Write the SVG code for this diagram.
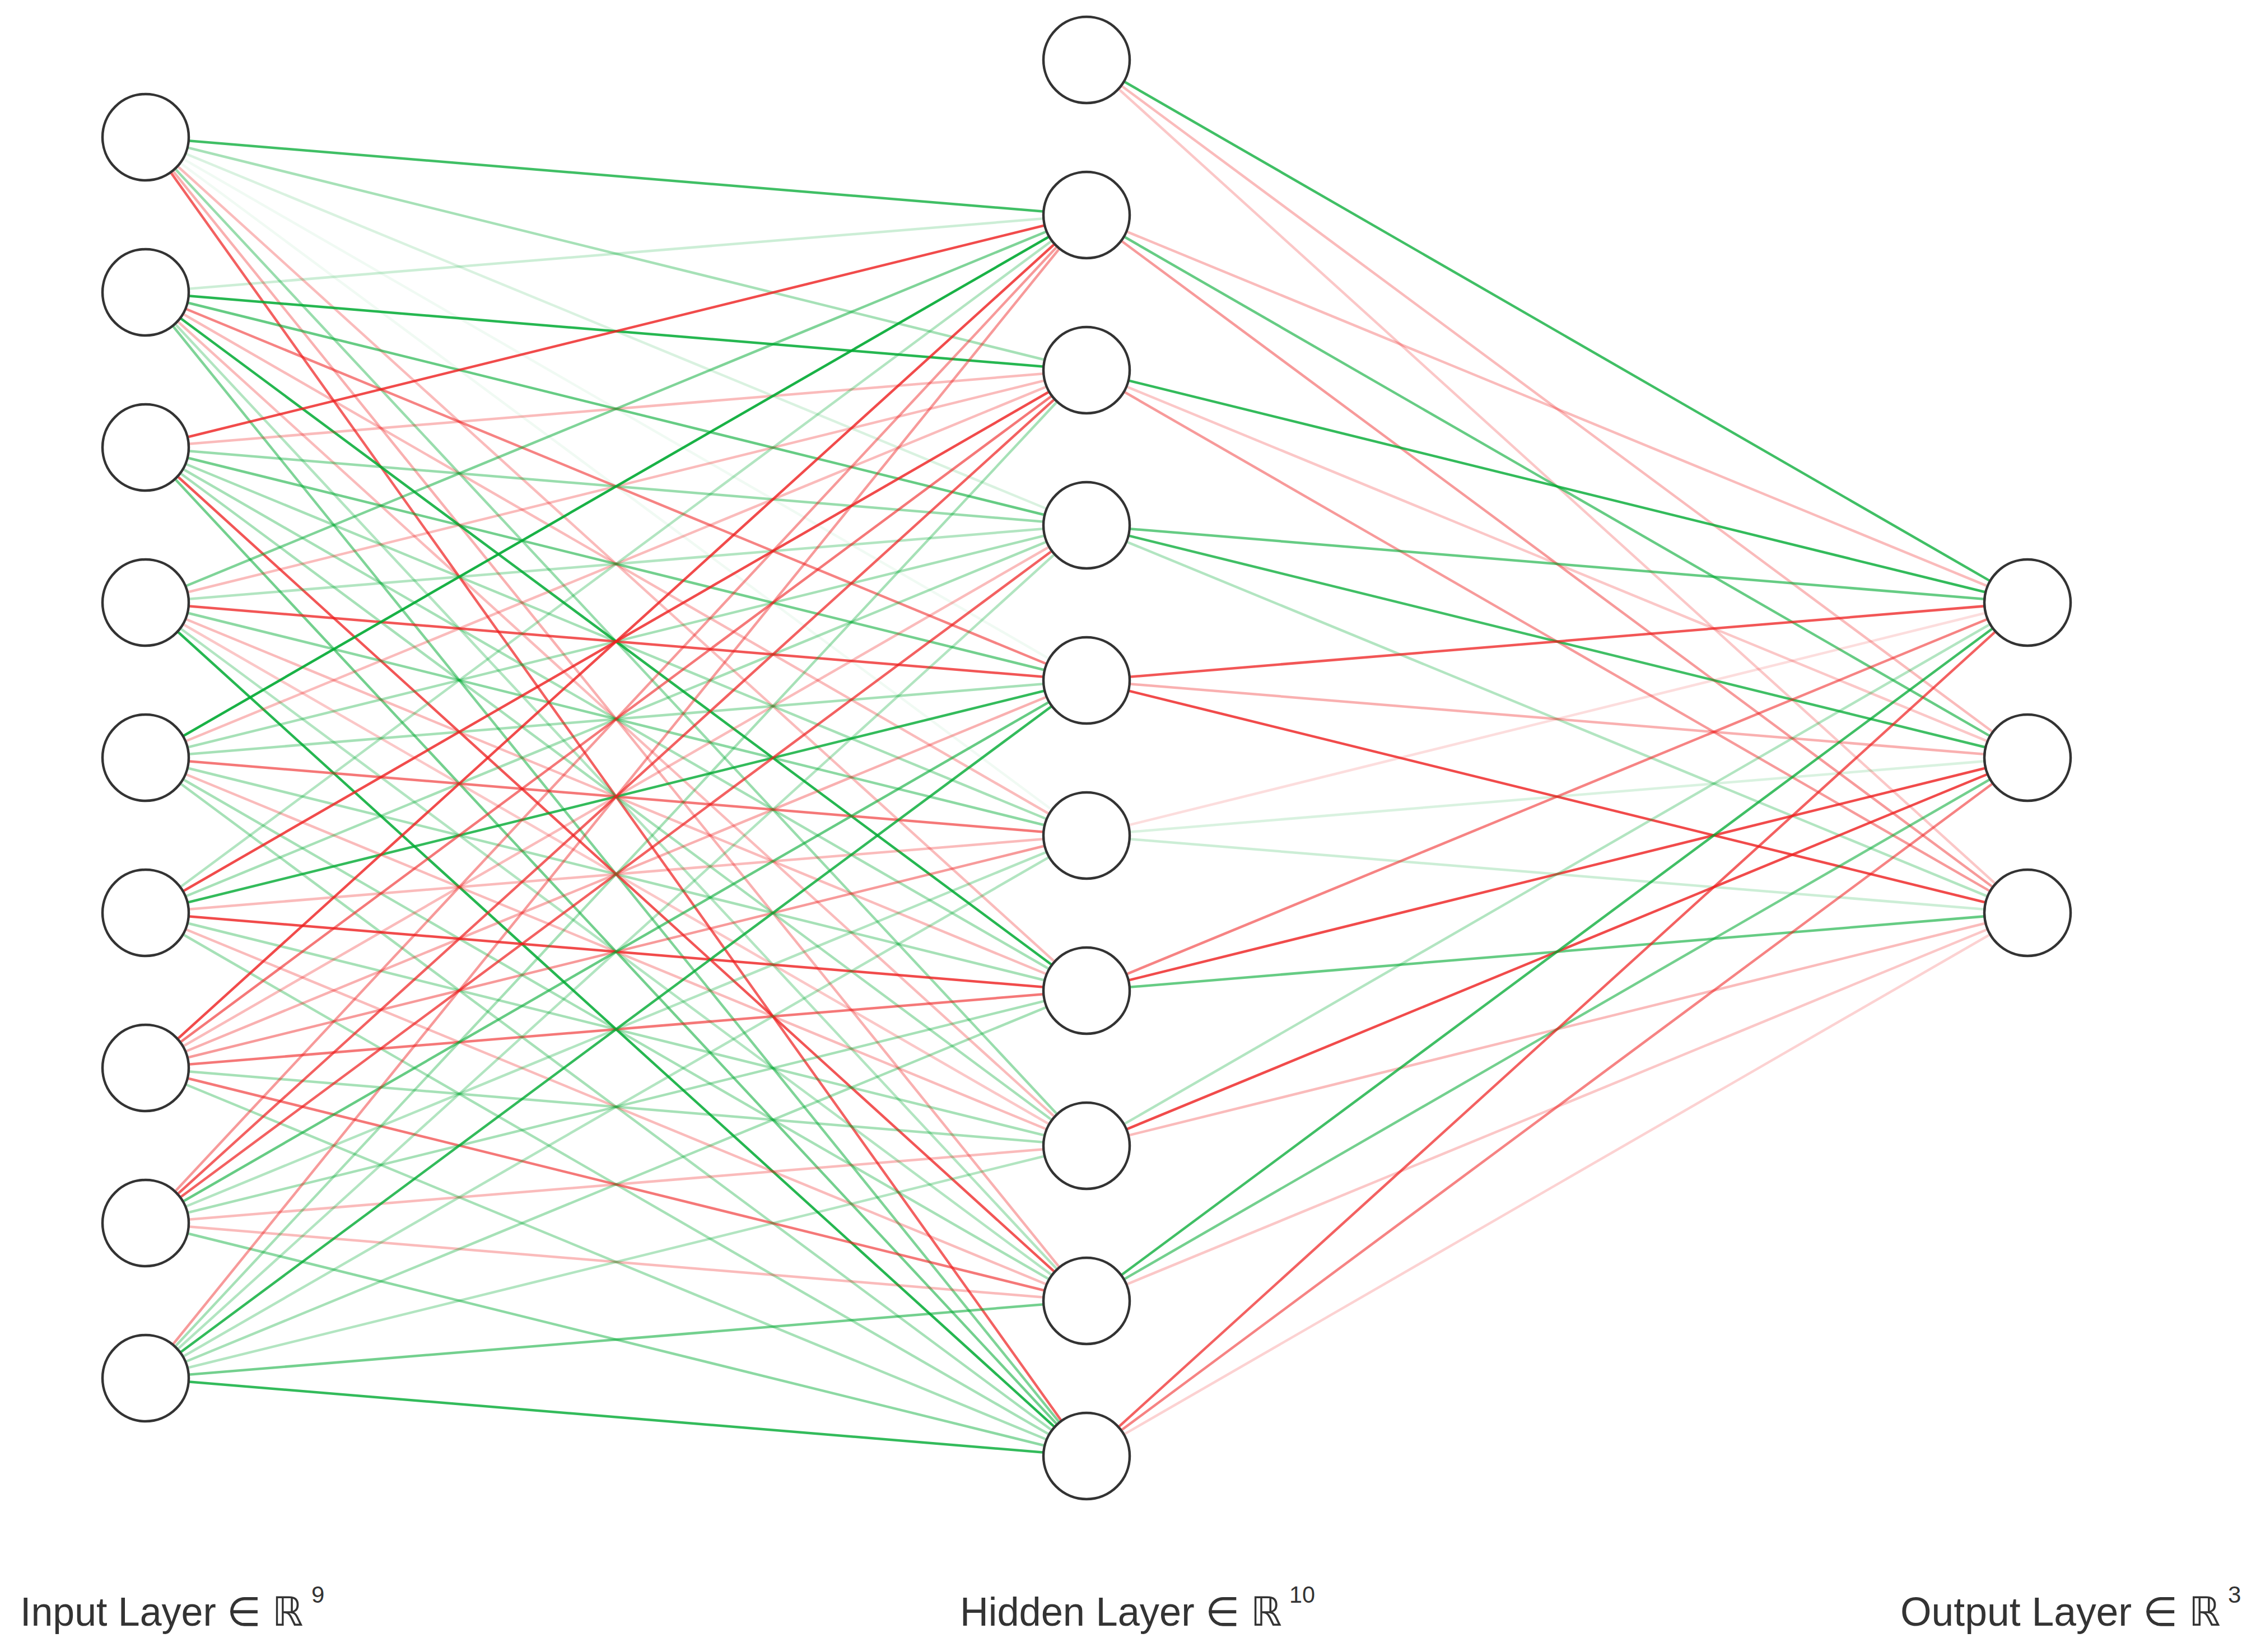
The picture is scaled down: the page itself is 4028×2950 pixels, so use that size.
<svg xmlns="http://www.w3.org/2000/svg" width="4028" height="2950" viewBox="0 0 4028 2950">
<style>
.bg{fill:#fff}
.node circle{fill:#fff;stroke:#333;stroke-width:4.5}
.g{stroke:rgb(0,170,50);stroke-width:4.5}
.r{stroke:rgb(238,30,30);stroke-width:4.5}
.lbl{font-family:"Liberation Sans",Arial,sans-serif;font-size:72px;fill:#333}
.sup{font-family:"Liberation Sans",Arial,sans-serif;font-size:42px;fill:#333}
</style>
<rect class="bg" x="0" y="0" width="4028" height="2950"/>
<g id="connectors">
<!-- I1 -->
<line class="g" x1="260" y1="245" x2="1940" y2="384" stroke-opacity="0.75"/>
<line class="g" x1="260" y1="245" x2="1940" y2="661" stroke-opacity="0.35"/>
<line class="g" x1="260" y1="245" x2="1940" y2="938" stroke-opacity="0.15"/>
<line class="g" x1="260" y1="245" x2="1940" y2="1215" stroke-opacity="0.06"/>
<line class="g" x1="260" y1="245" x2="1940" y2="1492" stroke-opacity="0.06"/>
<line class="r" x1="260" y1="245" x2="1940" y2="1769" stroke-opacity="0.3"/>
<line class="g" x1="260" y1="245" x2="1940" y2="2046" stroke-opacity="0.4"/>
<line class="r" x1="260" y1="245" x2="1940" y2="2323" stroke-opacity="0.35"/>
<line class="r" x1="260" y1="245" x2="1940" y2="2600" stroke-opacity="0.7"/>
<!-- I2 -->
<line class="g" x1="260" y1="522" x2="1940" y2="384" stroke-opacity="0.2"/>
<line class="g" x1="260" y1="522" x2="1940" y2="661" stroke-opacity="0.85"/>
<line class="g" x1="260" y1="522" x2="1940" y2="938" stroke-opacity="0.6"/>
<line class="r" x1="260" y1="522" x2="1940" y2="1215" stroke-opacity="0.55"/>
<line class="r" x1="260" y1="522" x2="1940" y2="1492" stroke-opacity="0.3"/>
<line class="g" x1="260" y1="522" x2="1940" y2="1769" stroke-opacity="0.85"/>
<line class="r" x1="260" y1="522" x2="1940" y2="2046" stroke-opacity="0.3"/>
<line class="g" x1="260" y1="522" x2="1940" y2="2323" stroke-opacity="0.3"/>
<line class="g" x1="260" y1="522" x2="1940" y2="2600" stroke-opacity="0.5"/>
<!-- I3 -->
<line class="r" x1="260" y1="799" x2="1940" y2="384" stroke-opacity="0.8"/>
<line class="r" x1="260" y1="799" x2="1940" y2="661" stroke-opacity="0.3"/>
<line class="g" x1="260" y1="799" x2="1940" y2="938" stroke-opacity="0.4"/>
<line class="g" x1="260" y1="799" x2="1940" y2="1215" stroke-opacity="0.55"/>
<line class="g" x1="260" y1="799" x2="1940" y2="1492" stroke-opacity="0.35"/>
<line class="g" x1="260" y1="799" x2="1940" y2="1769" stroke-opacity="0.35"/>
<line class="g" x1="260" y1="799" x2="1940" y2="2046" stroke-opacity="0.35"/>
<line class="r" x1="260" y1="799" x2="1940" y2="2323" stroke-opacity="0.75"/>
<line class="g" x1="260" y1="799" x2="1940" y2="2600" stroke-opacity="0.55"/>
<!-- I4 -->
<line class="g" x1="260" y1="1076" x2="1940" y2="384" stroke-opacity="0.5"/>
<line class="r" x1="260" y1="1076" x2="1940" y2="661" stroke-opacity="0.3"/>
<line class="g" x1="260" y1="1076" x2="1940" y2="938" stroke-opacity="0.3"/>
<line class="r" x1="260" y1="1076" x2="1940" y2="1215" stroke-opacity="0.75"/>
<line class="g" x1="260" y1="1076" x2="1940" y2="1492" stroke-opacity="0.45"/>
<line class="r" x1="260" y1="1076" x2="1940" y2="1769" stroke-opacity="0.3"/>
<line class="r" x1="260" y1="1076" x2="1940" y2="2046" stroke-opacity="0.25"/>
<line class="g" x1="260" y1="1076" x2="1940" y2="2323" stroke-opacity="0.3"/>
<line class="g" x1="260" y1="1076" x2="1940" y2="2600" stroke-opacity="0.85"/>
<!-- I5 -->
<line class="g" x1="260" y1="1353" x2="1940" y2="384" stroke-opacity="0.9"/>
<line class="r" x1="260" y1="1353" x2="1940" y2="661" stroke-opacity="0.3"/>
<line class="g" x1="260" y1="1353" x2="1940" y2="938" stroke-opacity="0.35"/>
<line class="g" x1="260" y1="1353" x2="1940" y2="1215" stroke-opacity="0.35"/>
<line class="r" x1="260" y1="1353" x2="1940" y2="1492" stroke-opacity="0.6"/>
<line class="g" x1="260" y1="1353" x2="1940" y2="1769" stroke-opacity="0.35"/>
<line class="r" x1="260" y1="1353" x2="1940" y2="2046" stroke-opacity="0.3"/>
<line class="g" x1="260" y1="1353" x2="1940" y2="2323" stroke-opacity="0.35"/>
<line class="g" x1="260" y1="1353" x2="1940" y2="2600" stroke-opacity="0.35"/>
<!-- I6 -->
<line class="g" x1="260" y1="1630" x2="1940" y2="384" stroke-opacity="0.3"/>
<line class="r" x1="260" y1="1630" x2="1940" y2="661" stroke-opacity="0.8"/>
<line class="g" x1="260" y1="1630" x2="1940" y2="938" stroke-opacity="0.35"/>
<line class="g" x1="260" y1="1630" x2="1940" y2="1215" stroke-opacity="0.8"/>
<line class="r" x1="260" y1="1630" x2="1940" y2="1492" stroke-opacity="0.3"/>
<line class="r" x1="260" y1="1630" x2="1940" y2="1769" stroke-opacity="0.8"/>
<line class="g" x1="260" y1="1630" x2="1940" y2="2046" stroke-opacity="0.35"/>
<line class="r" x1="260" y1="1630" x2="1940" y2="2323" stroke-opacity="0.3"/>
<line class="g" x1="260" y1="1630" x2="1940" y2="2600" stroke-opacity="0.35"/>
<!-- I7 -->
<line class="r" x1="260" y1="1907" x2="1940" y2="384" stroke-opacity="0.8"/>
<line class="r" x1="260" y1="1907" x2="1940" y2="661" stroke-opacity="0.6"/>
<line class="r" x1="260" y1="1907" x2="1940" y2="938" stroke-opacity="0.3"/>
<line class="r" x1="260" y1="1907" x2="1940" y2="1215" stroke-opacity="0.35"/>
<line class="r" x1="260" y1="1907" x2="1940" y2="1492" stroke-opacity="0.45"/>
<line class="r" x1="260" y1="1907" x2="1940" y2="1769" stroke-opacity="0.6"/>
<line class="g" x1="260" y1="1907" x2="1940" y2="2046" stroke-opacity="0.35"/>
<line class="r" x1="260" y1="1907" x2="1940" y2="2323" stroke-opacity="0.6"/>
<line class="g" x1="260" y1="1907" x2="1940" y2="2600" stroke-opacity="0.35"/>
<!-- I8 -->
<line class="r" x1="260" y1="2184" x2="1940" y2="384" stroke-opacity="0.45"/>
<line class="r" x1="260" y1="2184" x2="1940" y2="661" stroke-opacity="0.7"/>
<line class="r" x1="260" y1="2184" x2="1940" y2="938" stroke-opacity="0.7"/>
<line class="g" x1="260" y1="2184" x2="1940" y2="1215" stroke-opacity="0.6"/>
<line class="g" x1="260" y1="2184" x2="1940" y2="1492" stroke-opacity="0.3"/>
<line class="g" x1="260" y1="2184" x2="1940" y2="1769" stroke-opacity="0.35"/>
<line class="r" x1="260" y1="2184" x2="1940" y2="2046" stroke-opacity="0.3"/>
<line class="r" x1="260" y1="2184" x2="1940" y2="2323" stroke-opacity="0.3"/>
<line class="g" x1="260" y1="2184" x2="1940" y2="2600" stroke-opacity="0.45"/>
<!-- I9 -->
<line class="r" x1="260" y1="2461" x2="1940" y2="384" stroke-opacity="0.45"/>
<line class="g" x1="260" y1="2461" x2="1940" y2="661" stroke-opacity="0.35"/>
<line class="g" x1="260" y1="2461" x2="1940" y2="938" stroke-opacity="0.3"/>
<line class="g" x1="260" y1="2461" x2="1940" y2="1215" stroke-opacity="0.8"/>
<line class="g" x1="260" y1="2461" x2="1940" y2="1492" stroke-opacity="0.3"/>
<line class="g" x1="260" y1="2461" x2="1940" y2="1769" stroke-opacity="0.35"/>
<line class="g" x1="260" y1="2461" x2="1940" y2="2046" stroke-opacity="0.3"/>
<line class="g" x1="260" y1="2461" x2="1940" y2="2323" stroke-opacity="0.55"/>
<line class="g" x1="260" y1="2461" x2="1940" y2="2600" stroke-opacity="0.8"/>
<!-- Hidden to output -->
<line class="g" x1="1940" y1="107" x2="3620" y2="1076" stroke-opacity="0.75"/>
<line class="r" x1="1940" y1="107" x2="3620" y2="1353" stroke-opacity="0.3"/>
<line class="r" x1="1940" y1="107" x2="3620" y2="1630" stroke-opacity="0.25"/>
<line class="r" x1="1940" y1="384" x2="3620" y2="1076" stroke-opacity="0.3"/>
<line class="g" x1="1940" y1="384" x2="3620" y2="1353" stroke-opacity="0.6"/>
<line class="r" x1="1940" y1="384" x2="3620" y2="1630" stroke-opacity="0.45"/>
<line class="g" x1="1940" y1="661" x2="3620" y2="1076" stroke-opacity="0.8"/>
<line class="r" x1="1940" y1="661" x2="3620" y2="1353" stroke-opacity="0.25"/>
<line class="r" x1="1940" y1="661" x2="3620" y2="1630" stroke-opacity="0.45"/>
<line class="g" x1="1940" y1="938" x2="3620" y2="1076" stroke-opacity="0.6"/>
<line class="g" x1="1940" y1="938" x2="3620" y2="1353" stroke-opacity="0.75"/>
<line class="g" x1="1940" y1="938" x2="3620" y2="1630" stroke-opacity="0.3"/>
<line class="r" x1="1940" y1="1215" x2="3620" y2="1076" stroke-opacity="0.75"/>
<line class="r" x1="1940" y1="1215" x2="3620" y2="1353" stroke-opacity="0.35"/>
<line class="r" x1="1940" y1="1215" x2="3620" y2="1630" stroke-opacity="0.8"/>
<line class="r" x1="1940" y1="1492" x2="3620" y2="1076" stroke-opacity="0.15"/>
<line class="g" x1="1940" y1="1492" x2="3620" y2="1353" stroke-opacity="0.15"/>
<line class="g" x1="1940" y1="1492" x2="3620" y2="1630" stroke-opacity="0.2"/>
<line class="r" x1="1940" y1="1769" x2="3620" y2="1076" stroke-opacity="0.55"/>
<line class="r" x1="1940" y1="1769" x2="3620" y2="1353" stroke-opacity="0.8"/>
<line class="g" x1="1940" y1="1769" x2="3620" y2="1630" stroke-opacity="0.6"/>
<line class="g" x1="1940" y1="2046" x2="3620" y2="1076" stroke-opacity="0.3"/>
<line class="r" x1="1940" y1="2046" x2="3620" y2="1353" stroke-opacity="0.8"/>
<line class="r" x1="1940" y1="2046" x2="3620" y2="1630" stroke-opacity="0.3"/>
<line class="g" x1="1940" y1="2323" x2="3620" y2="1076" stroke-opacity="0.75"/>
<line class="g" x1="1940" y1="2323" x2="3620" y2="1353" stroke-opacity="0.55"/>
<line class="r" x1="1940" y1="2323" x2="3620" y2="1630" stroke-opacity="0.25"/>
<line class="r" x1="1940" y1="2600" x2="3620" y2="1076" stroke-opacity="0.7"/>
<line class="r" x1="1940" y1="2600" x2="3620" y2="1353" stroke-opacity="0.55"/>
<line class="r" x1="1940" y1="2600" x2="3620" y2="1630" stroke-opacity="0.2"/>
</g>
<g id="input-layer" class="node">
<g id="in1"><circle cx="260" cy="245" r="77"/></g>
<g id="in2"><circle cx="260" cy="522" r="77"/></g>
<g id="in3"><circle cx="260" cy="799" r="77"/></g>
<g id="in4"><circle cx="260" cy="1076" r="77"/></g>
<g id="in5"><circle cx="260" cy="1353" r="77"/></g>
<g id="in6"><circle cx="260" cy="1630" r="77"/></g>
<g id="in7"><circle cx="260" cy="1907" r="77"/></g>
<g id="in8"><circle cx="260" cy="2184" r="77"/></g>
<g id="in9"><circle cx="260" cy="2461" r="77"/></g>
</g>
<g id="hidden-layer" class="node">
<g id="h1"><circle cx="1940" cy="107" r="77"/></g>
<g id="h2"><circle cx="1940" cy="384" r="77"/></g>
<g id="h3"><circle cx="1940" cy="661" r="77"/></g>
<g id="h4"><circle cx="1940" cy="938" r="77"/></g>
<g id="h5"><circle cx="1940" cy="1215" r="77"/></g>
<g id="h6"><circle cx="1940" cy="1492" r="77"/></g>
<g id="h7"><circle cx="1940" cy="1769" r="77"/></g>
<g id="h8"><circle cx="1940" cy="2046" r="77"/></g>
<g id="h9"><circle cx="1940" cy="2323" r="77"/></g>
<g id="h10"><circle cx="1940" cy="2600" r="77"/></g>
</g>
<g id="output-layer" class="node">
<g id="o1"><circle cx="3620" cy="1076" r="77"/></g>
<g id="o2"><circle cx="3620" cy="1353" r="77"/></g>
<g id="o3"><circle cx="3620" cy="1630" r="77"/></g>
</g>
<g id="labels">
<text class="lbl" x="36" y="2903" textLength="505" lengthAdjust="spacingAndGlyphs">Input Layer ∈ ℝ</text>
<text class="sup" x="556" y="2862">9</text>
<text class="lbl" x="1714" y="2903" textLength="575" lengthAdjust="spacingAndGlyphs">Hidden Layer ∈ ℝ</text>
<text class="sup" x="2302" y="2862" textLength="46" lengthAdjust="spacingAndGlyphs">10</text>
<text class="lbl" x="3393" y="2903" textLength="572" lengthAdjust="spacingAndGlyphs">Output Layer ∈ ℝ</text>
<text class="sup" x="3978" y="2862">3</text>
</g>
</svg>
